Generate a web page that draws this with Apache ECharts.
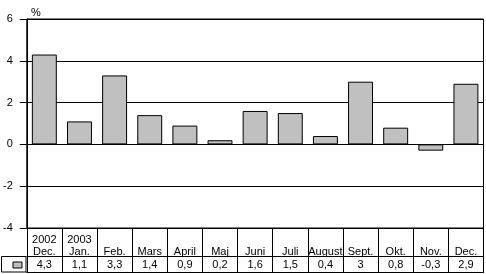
<!DOCTYPE html>
<html>
<head>
<meta charset="utf-8">
<script src="https://cdn.jsdelivr.net/npm/echarts@6/dist/echarts.min.js"></script>
<style>html,body{margin:0;padding:0;background:#fff}#c{width:486px;height:274px}</style>
</head>
<body>
<div id="c"></div>
<script>
var categories = ["2002\nDec.", "2003\nJan.", "Feb.", "Mars", "April", "Maj", "Juni", "Juli", "August", "Sept.", "Okt.", "Nov.", "Dec."];
var values = [4.3, 1.1, 3.3, 1.4, 0.9, 0.2, 1.6, 1.5, 0.4, 3, 0.8, -0.3, 2.9];
var valueLabels = ["4,3", "1,1", "3,3", "1,4", "0,9", "0,2", "1,6", "1,5", "0,4", "3", "0,8", "-0,3", "2,9"];
var yMin = -4, yMax = 6, yStep = 2;
var unitLabel = "%";

var FONT = "Liberation Sans, Arial, sans-serif";
var chart = echarts.init(document.getElementById('c'), null, {renderer: 'canvas'});
chart.setOption({
  animation: false,
  backgroundColor: '#fff',
  title: {text: unitLabel, left: 26, top: 2, textStyle: {fontSize: 11, fontWeight: 'normal', color: '#000', fontFamily: FONT}},
  legend: {
    left: 12.5, top: 261.5, padding: 0, itemWidth: 9, itemHeight: 6, itemGap: 0,
    formatter: function () { return ''; },
    textStyle: {fontSize: 1}, selectedMode: false,
    data: [{name: 'v', icon: 'rect', itemStyle: {color: '#c0c0c0', borderColor: '#000', borderWidth: 1}}]
  },
  grid: {left: 26, right: 2.5, top: 19, bottom: 46, show: true, borderColor: '#000', borderWidth: 1, containLabel: false},
  xAxis: [
    {
      type: 'category', data: categories, position: 'bottom',
      axisLine: {show: true, onZero: false, lineStyle: {color: '#000', width: 1}},
      axisTick: {show: true, length: 44, interval: 0, lineStyle: {color: '#000', width: 1}},
      axisLabel: {interval: 0, margin: 29.5, verticalAlign: 'bottom', lineHeight: 11.5, color: '#000', fontSize: 11, fontFamily: FONT}
    },
    {
      type: 'category', data: valueLabels, position: 'bottom', offset: 28.5,
      axisLine: {show: true, onZero: false, lineStyle: {color: '#000', width: 1}},
      axisTick: {show: false},
      axisLabel: {interval: 0, margin: 3, color: '#000', fontSize: 11, fontFamily: FONT}
    },
    {
      type: 'category', data: valueLabels, position: 'bottom', offset: 44,
      axisLine: {show: true, onZero: false, lineStyle: {color: '#000', width: 1}},
      axisTick: {show: false},
      axisLabel: {show: false}
    }
  ],
  yAxis: {
    type: 'value', min: yMin, max: yMax, interval: yStep,
    axisLine: {show: true, onZero: false, lineStyle: {color: '#000', width: 1}},
    axisTick: {show: true, length: 7, lineStyle: {color: '#000'}},
    axisLabel: {margin: 14, color: '#000', fontSize: 11, fontFamily: FONT},
    splitLine: {show: true, lineStyle: {color: '#000', width: 1}}
  },
  graphic: [
    {type: 'rect', shape: {x: 1.5, y: 256.5, width: 24.5, height: 15.5}, style: {fill: 'none', stroke: '#000', lineWidth: 1}, silent: true}
  ],
  series: [{
    name: 'v', type: 'bar', data: values, xAxisIndex: 0,
    barCategoryGap: '29%',
    itemStyle: {color: '#c0c0c0', borderColor: '#000', borderWidth: 1}
  }]
});
</script>
</body>
</html>
